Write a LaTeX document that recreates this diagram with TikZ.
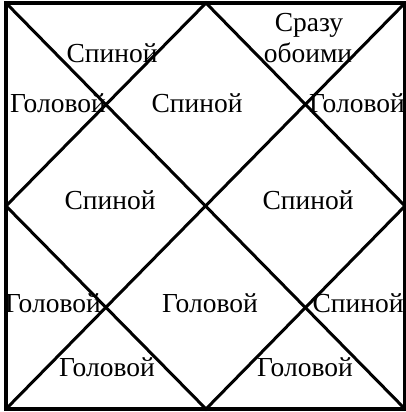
\documentclass[tikz,border=0pt]{standalone}
\usepackage{fontspec}
\setmainfont{Liberation Serif}
\begin{document}
\begin{tikzpicture}[x=1pt,y=1pt,
  edge/.style={line width=3pt,line cap=round,line join=miter},
  lbl/.style={anchor=base,inner sep=0pt,font=\fontsize{27.5}{30}\selectfont}]
\useasboundingbox (0,0) rectangle (406,412);
\coordinate (TL) at (6,409);
\coordinate (TR) at (405,409);
\coordinate (BR) at (405,3);
\coordinate (BL) at (6,3);
\coordinate (MT) at (206,409);
\coordinate (ML) at (6,206);
\coordinate (MB) at (206,3);
\coordinate (MR) at (405,206);
\draw[edge,line width=3.4pt] (TL) -- (TR) -- (BR) -- (BL) -- cycle;
\draw[edge] (TL) -- (BR);
\draw[edge] (TR) -- (BL);
\draw[edge] (MT) -- (ML) -- (MB) -- (MR) -- cycle;
\node[lbl] (s1) at (112,349) {Спиной};
\node[lbl] (g1) at (58,299) {Головой};
\node[lbl] (s2) at (197,299) {Спиной};
\node[lbl] (sr1) at (309,380) {Сразу};
\node[lbl] (sr2) at (308,349) {обоими};
\node[lbl] (g2) at (357,299) {Головой};
\node[lbl] (s3) at (110,202) {Спиной};
\node[lbl] (s4) at (308,202) {Спиной};
\node[lbl] (g3) at (53,99) {Головой};
\node[lbl] (g4) at (210,99) {Головой};
\node[lbl] (s5) at (358,99) {Спиной};
\node[lbl] (g5) at (107,35) {Головой};
\node[lbl] (g6) at (305,35) {Головой};
\end{tikzpicture}
\end{document}
